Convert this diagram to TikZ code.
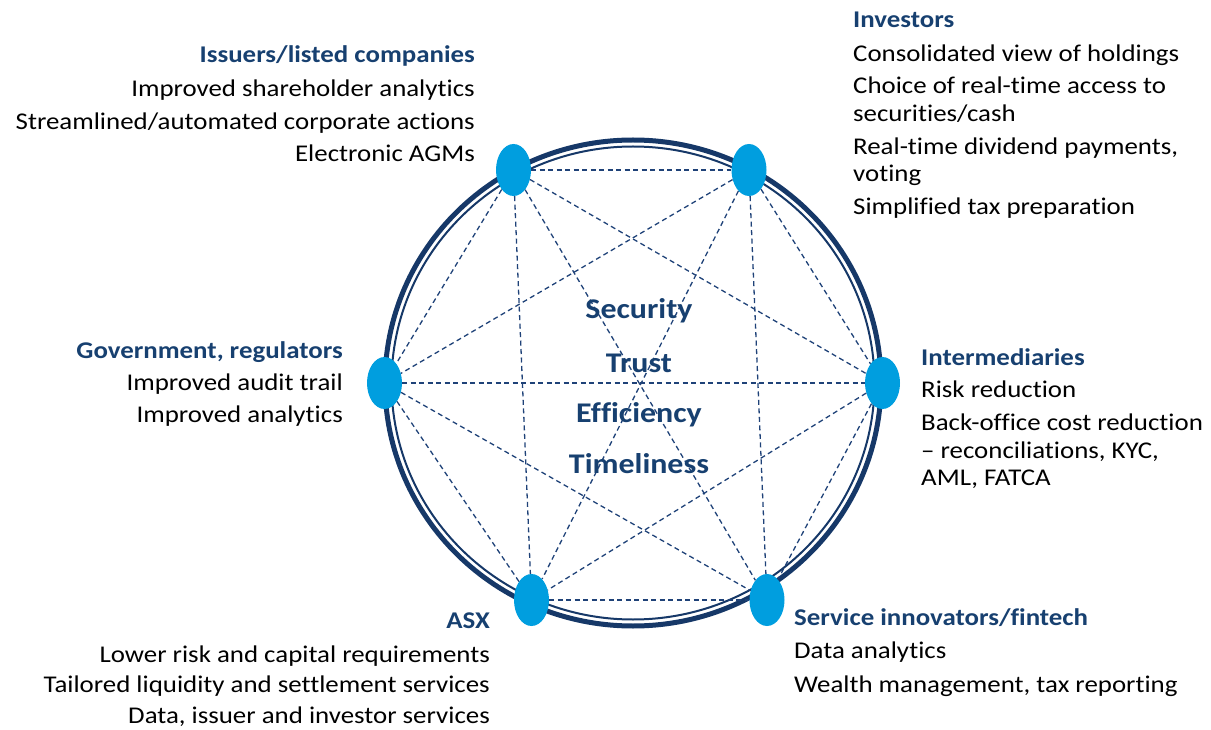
\documentclass[tikz,border=0pt]{standalone}
\usepackage{fontspec}
\setmainfont{Carlito}[FakeStretch=1.12,Ligatures=NoCommon]
\usetikzlibrary{shapes.geometric}
\definecolor{ring}{RGB}{22,56,104}
\definecolor{head}{RGB}{23,64,112}
\definecolor{dot}{RGB}{0,158,223}
\definecolor{dash}{RGB}{31,66,120}
\tikzset{
  hub/.style={ellipse,fill=dot,draw=none,minimum width=35pt,minimum height=52pt,inner sep=0pt},
  link/.style={draw=dash,line width=1.3pt,dash pattern=on 5pt off 3.5pt},
  hd/.style={font=\fontsize{24}{28}\selectfont\bfseries,text=head,inner sep=0pt},
  bd/.style={font=\fontsize{24}{28}\selectfont,text=black,inner sep=0pt},
  ctr/.style={font=\fontsize{28.5}{34}\selectfont\bfseries,text=head,inner sep=0pt,anchor=base},
}
\begin{document}
\begin{tikzpicture}[x=1pt,y=-1pt]
\useasboundingbox (0,0) rectangle (1211,730);
% ring
\draw[ring,line width=5pt] (633,383) ellipse [x radius=248,y radius=243];
\draw[ring,line width=2pt] (633,383) ellipse [x radius=241.5,y radius=236.5];
% hubs
\node[hub] (tl) at (513.5,170) {};
\node[hub] (tr) at (749,170) {};
\node[hub] (l) at (384.5,383) {};
\node[hub] (r) at (882.5,383) {};
\node[hub] (bl) at (531.5,600) {};
\node[hub] (br) at (767,600) {};
% links
\foreach \a/\b in {tl/tr,tl/l,tl/r,tl/bl,tl/br,tr/l,tr/r,tr/bl,tr/br,l/r,l/bl,l/br,r/bl,r/br,bl/br}
  \draw[link] (\a) -- (\b);
% center words
\node[ctr] (c1) at (639,319) {Security};
\node[ctr] (c2) at (639,372) {Trust};
\node[ctr] (c3) at (639,422) {Efficiency};
\node[ctr] (c4) at (639,473) {Timeliness};
% issuers
\node[hd,anchor=base east] (i0) at (475,63) {Issuers/listed companies};
\node[bd,anchor=base east] (i1) at (475,97) {Improved shareholder analytics};
\node[bd,anchor=base east] (i2) at (475,130) {Streamlined/automated corporate actions};
\node[bd,anchor=base east] (i3) at (475,162) {Electronic AGMs};
% investors
\node[hd,anchor=base west] (v0) at (853,28) {Investors};
\node[bd,anchor=base west] (v1) at (853,62) {Consolidated view of holdings};
\node[bd,anchor=base west] (v2) at (853,94) {Choice of real-time access to};
\node[bd,anchor=base west] (v3) at (853,122) {securities/cash};
\node[bd,anchor=base west] (v4) at (853,155) {Real-time dividend payments,};
\node[bd,anchor=base west] (v5) at (853,182) {voting};
\node[bd,anchor=base west] (v6) at (853,215) {Simplified tax preparation};
% government
\node[hd,anchor=base east] (g0) at (343,358) {Government, regulators};
\node[bd,anchor=base east] (g1) at (343,390) {Improved audit trail};
\node[bd,anchor=base east] (g2) at (343,422) {Improved analytics};
% intermediaries
\node[hd,anchor=base west] (m0) at (921,365) {Intermediaries};
\node[bd,anchor=base west] (m1) at (921,397) {Risk reduction};
\node[bd,anchor=base west] (m2) at (921,430) {Back-office cost reduction};
\node[bd,anchor=base west] (m3) at (921,458) {– reconciliations, KYC,};
\node[bd,anchor=base west] (m4) at (921,485) {AML, FATCA};
% ASX
\node[hd,anchor=base east] (a0) at (490,628) {ASX};
\node[bd,anchor=base east] (a1) at (490,662) {Lower risk and capital requirements};
\node[bd,anchor=base east] (a2) at (490,692) {Tailored liquidity and settlement services};
\node[bd,anchor=base east] (a3) at (490,723) {Data, issuer and investor services};
% service innovators
\node[hd,anchor=base west] (s0) at (794,625) {Service innovators/fintech};
\node[bd,anchor=base west] (s1) at (794,658) {Data analytics};
\node[bd,anchor=base west] (s2) at (794,692) {Wealth management, tax reporting};
\end{tikzpicture}
\end{document}
